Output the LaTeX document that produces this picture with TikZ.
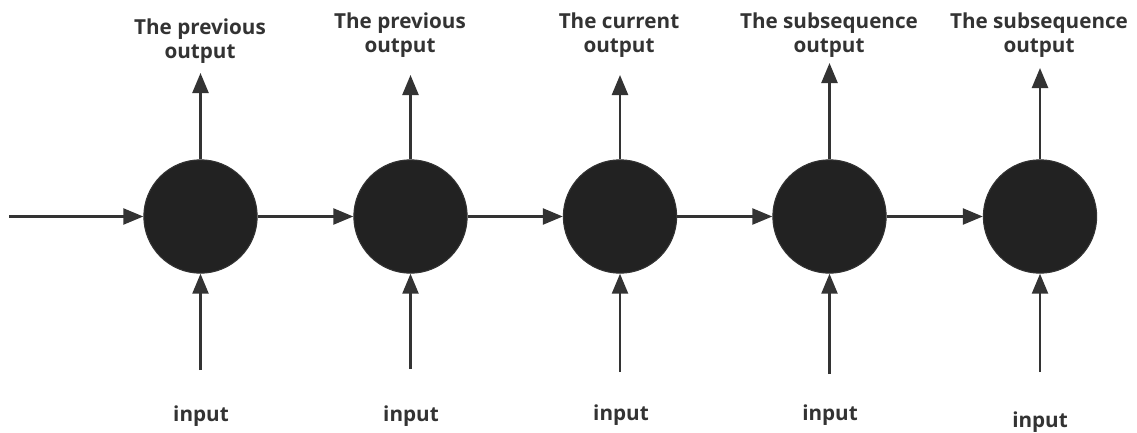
\documentclass[tikz,border=0pt]{standalone}
\usepackage{fontspec}
\setmainfont{Open Sans}
\usetikzlibrary{arrows.meta}
\definecolor{ink}{HTML}{333333}
\definecolor{cellfill}{HTML}{222222}

\begin{document}
\begin{tikzpicture}[x=0.75pt,y=-0.75pt,
  cell/.style={circle, fill=cellfill, draw=ink, line width=0.8pt, minimum size=85pt, inner sep=0pt},
  link/.style={draw=ink, line width=1.8pt, -{Triangle[length=15pt,width=12pt]}},
  lbl/.style={text=ink, font=\bfseries\fontsize{15.5pt}{18pt}\selectfont, align=center, inner sep=0pt}
]
\useasboundingbox (0,0) rectangle (1137,432);

% recurrent cells
\node[cell] (c1) at (200.5,216.5) {};
\node[cell] (c2) at (410.5,216.5) {};
\node[cell] (c3) at (620,216.5) {};
\node[cell] (c4) at (829.5,216.5) {};
\node[cell] (c5) at (1040,216.5) {};

% hidden-state chain
\coordinate (h0) at (9,216.5);
\draw[link] (h0) -- (c1);
\draw[link] (c1) -- (c2);
\draw[link] (c2) -- (c3);
\draw[link] (c3) -- (c4);
\draw[link] (c4) -- (c5);

% outputs
\coordinate (o1) at (200.5,73);
\coordinate (o2) at (410.5,75);
\coordinate (o3) at (620,75);
\coordinate (o4) at (829.5,63);
\coordinate (o5) at (1040,68);
\draw[link] (c1) -- (o1);
\draw[link] (c2) -- (o2);
\draw[link] (c3) -- (o3);
\draw[link] (c4) -- (o4);
\draw[link] (c5) -- (o5);

% inputs
\coordinate (i1) at (200.5,370);
\coordinate (i2) at (410.5,369);
\coordinate (i3) at (620,372);
\coordinate (i4) at (829.5,374);
\coordinate (i5) at (1040,372);
\draw[link] (i1) -- (c1);
\draw[link] (i2) -- (c2);
\draw[link] (i3) -- (c3);
\draw[link] (i4) -- (c4);
\draw[link] (i5) -- (c5);

% output labels
\node[lbl] (t1) at (200,41) {The previous\\output};
\node[lbl] (t2) at (400,35) {The previous\\output};
\node[lbl] (t3) at (619,35) {The current\\output};
\node[lbl] (t4) at (829,35) {The subsequence\\output};
\node[lbl] (t5) at (1039,35) {The subsequence\\output};

% input labels
\node[lbl, anchor=base] (b1) at (201,421) {input};
\node[lbl, anchor=base] (b2) at (411,421) {input};
\node[lbl, anchor=base] (b3) at (621,420) {input};
\node[lbl, anchor=base] (b4) at (830,420) {input};
\node[lbl, anchor=base] (b5) at (1040,427) {input};
\end{tikzpicture}
\end{document}
